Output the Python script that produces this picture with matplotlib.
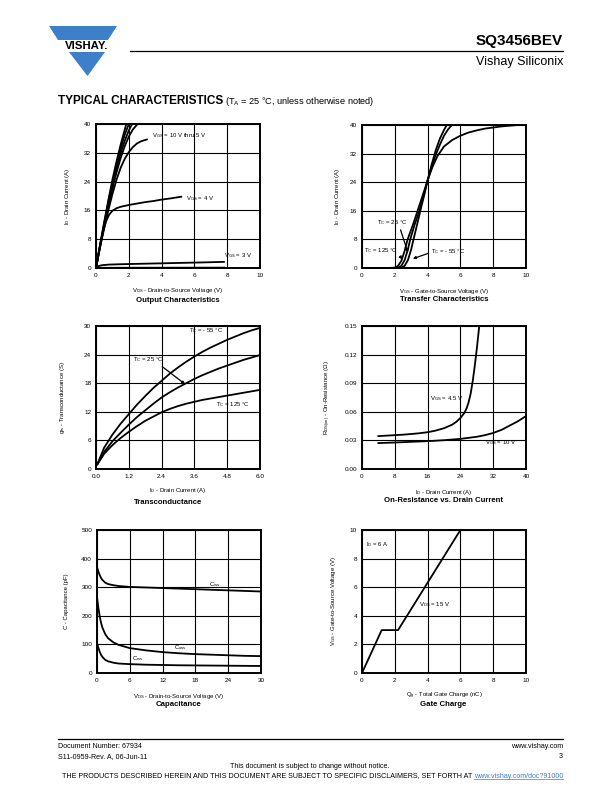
import matplotlib
matplotlib.use("Agg")
import matplotlib.pyplot as plt
from matplotlib.patches import Polygon
from matplotlib.lines import Line2D

# ---- Output characteristics (ID vs VDS) ----
out_vds_10 = [0, 0.25, 0.5, 0.75, 1.0, 1.25, 1.5, 1.75, 1.85]
out_id_10 = [0, 6.5, 12.8, 18.8, 24.5, 29.6, 34.2, 38.4, 40]
out_vds_8 = [0, 0.25, 0.5, 0.75, 1.0, 1.25, 1.5, 1.75, 2.0]
out_id_8 = [0, 6.3, 12.4, 18.2, 23.6, 28.6, 33.0, 37.0, 40]
out_vds_6 = [0, 0.25, 0.5, 0.75, 1.0, 1.25, 1.5, 1.75, 2.0, 2.2]
out_id_6 = [0, 6.1, 12.0, 17.6, 22.8, 27.6, 31.8, 35.3, 38.2, 40]
out_vds_55 = [0, 0.25, 0.5, 0.75, 1.0, 1.25, 1.5, 1.75, 2.0, 2.25, 2.5]
out_id_55 = [0, 6.0, 11.6, 17.0, 22.0, 26.5, 30.5, 33.8, 36.5, 38.5, 39.8]
out_vds_5 = [0, 0.25, 0.5, 0.75, 1.0, 1.25, 1.5, 1.75, 2.0, 2.25, 2.5, 2.75, 3.1]
out_id_5 = [0, 5.8, 11.0, 16.0, 20.5, 24.5, 27.8, 30.3, 32.2, 33.6, 34.6, 35.2, 35.7]
out_vds_4 = [0, 0.15, 0.3, 0.45, 0.6, 0.8, 1.0, 1.25, 1.5, 2.0, 2.5, 3.0, 3.5, 4.0, 4.5, 5.2]
out_id_4 = [0, 4.0, 7.5, 10.5, 12.8, 14.8, 15.9, 16.6, 17.0, 17.5, 17.9, 18.3, 18.6, 19.0, 19.3, 19.8]
out_vds_3 = [0, 0.1, 0.2, 0.4, 0.8, 1.5, 2.5, 3.5, 4.5, 5.5, 6.5, 7.8]
out_id_3 = [0, 0.4, 0.6, 0.8, 0.95, 1.05, 1.15, 1.25, 1.35, 1.45, 1.55, 1.7]
out_vds_2 = [0, 0.1, 2, 4, 6, 7.8]
out_id_2 = [0, 0.05, 0.07, 0.08, 0.09, 0.1]

# ---- Transfer characteristics (ID vs VGS) ----
tf_vgs_m55 = [0, 2.0, 2.4, 2.6, 2.8, 3.0, 3.14, 3.3, 3.59, 3.8, 4.0, 4.25, 4.5, 4.75, 5.0, 5.17]
tf_id_m55 = [0, 0, 0.1, 0.6, 2.2, 5.2, 8, 11, 16.6, 20.5, 24.5, 29, 33, 36.2, 38.6, 40]
tf_vgs_25 = [0, 1.8, 2.2, 2.4, 2.6, 2.8, 2.94, 3.2, 3.5, 3.75, 4.0, 4.25, 4.5, 4.75, 5.0, 5.25, 5.48]
tf_id_25 = [0, 0, 0.1, 0.6, 2.2, 5.2, 8, 12, 16, 20.2, 24.5, 28.3, 31.7, 34.5, 37, 38.8, 40]
tf_vgs_125 = [0, 1.6, 2.0, 2.2, 2.4, 2.6, 2.78, 3.1, 3.39, 3.7, 4.0, 4.3, 4.6, 5.0, 5.5, 6.0, 6.5,
              7.0, 7.5, 8.0, 8.5, 9.0, 9.5]
tf_id_125 = [0, 0, 0.1, 0.6, 2.0, 4.8, 8, 12, 16, 20.3, 24.5, 28.3, 31.3, 34, 35.8, 37, 37.9,
             38.5, 39, 39.3, 39.6, 39.8, 40]

# ---- Transconductance (gfs vs ID) ----
gfs_id = [0.05, 0.3, 0.6, 0.9, 1.2, 1.5, 1.8, 2.1, 2.4, 2.7, 3.0, 3.3, 3.6, 3.9, 4.2, 4.5, 4.8,
          5.1, 5.4, 5.7, 6.0]
gfs_m55 = [1, 4.5, 7.2, 9.5, 11.5, 13.5, 15.3, 17, 18.5, 20, 21.3, 22.5, 23.6, 24.6, 25.5, 26.3,
           27.1, 27.8, 28.5, 29.1, 29.6]
gfs_25 = [1, 3.6, 5.8, 7.6, 9.3, 10.9, 12.3, 13.7, 15, 16.1, 17.1, 18, 18.9, 19.7, 20.4, 21.1,
          21.7, 22.3, 22.9, 23.4, 23.9]
gfs_125 = [1, 3.2, 5.0, 6.5, 7.8, 9.0, 10.1, 11.0, 11.9, 12.6, 13.2, 13.7, 14.1, 14.5, 14.8, 15.1,
           15.4, 15.7, 16.0, 16.3, 16.6]

# ---- On-resistance vs drain current ----
rds_id_45 = [4, 6, 8, 10, 12, 14, 16, 18, 20, 22, 23, 24, 25, 25.5, 26, 26.5, 27, 27.5, 28, 28.6]
rds_45 = [0.0345, 0.035, 0.0355, 0.036, 0.0367, 0.0375, 0.0386, 0.0403, 0.0428, 0.0465, 0.0495,
          0.0535, 0.059, 0.0635, 0.07, 0.079, 0.092, 0.108, 0.126, 0.15]
rds_id_10 = [4, 8, 12, 16, 20, 24, 28, 30, 32, 34, 36, 38, 40]
rds_10 = [0.0272, 0.0278, 0.0285, 0.0292, 0.0302, 0.0316, 0.0338, 0.0355, 0.0378, 0.041, 0.0455,
          0.05, 0.0555]

# ---- Capacitance vs VDS ----
cap_vds = [0, 0.25, 0.5, 0.75, 1, 1.5, 2, 3, 4, 6, 9, 12, 15, 18, 21, 24, 27, 30]
cap_ciss = [370, 355, 342, 332, 325, 316, 311, 307, 304, 301, 299, 297, 295, 293, 291, 289, 287, 285]
cap_coss = [265, 228, 198, 175, 158, 136, 122, 107, 98, 87, 79, 73, 69, 66, 64, 62, 60, 59]
cap_crss = [105, 88, 74, 63, 56, 46, 41, 36, 33, 31, 29, 28, 27, 26.5, 26, 25.5, 25, 24.5]

# ---- Gate charge ----
qg_nc = [0, 1.2, 2.2, 6.0]
qg_vgs = [0, 3, 3, 10]

plt.rcParams['font.family'] = ['Liberation Sans', 'DejaVu Sans']
plt.rcParams['mathtext.fontset'] = 'custom'
plt.rcParams['mathtext.rm'] = 'Liberation Sans'
plt.rcParams['mathtext.it'] = 'Liberation Sans:italic'
plt.rcParams['mathtext.bf'] = 'Liberation Sans:bold'

W, H = 612, 792
fig = plt.figure(figsize=(W / 100, H / 100), dpi=100)
BLUE = '#3d7fc9'


def ftext(x, y, s, **kw):
    return fig.text(x / W, 1 - y / H, s, **kw)


def make_axes(x0, y0, x1, y1, xticks, yticks, xlabels, ylabels, xlabel, ylabel, ylx, xly):
    ax = fig.add_axes([x0 / W, 1 - y1 / H, (x1 - x0) / W, (y1 - y0) / H])
    ax.set_xlim(xticks[0], xticks[-1])
    ax.set_ylim(yticks[0], yticks[-1])
    ax.set_xticks(xticks)
    ax.set_yticks(yticks)
    ax.set_xticklabels(xlabels)
    ax.set_yticklabels(ylabels)
    ax.tick_params(length=0, labelsize=4.6, pad=3.5)
    ax.grid(True, color='black', linewidth=0.8)
    ax.set_axisbelow(True)
    for sp in ax.spines.values():
        sp.set_linewidth(1.4)
    ax.set_xlabel(xlabel, fontsize=4.3)
    ax.set_ylabel(ylabel, fontsize=4.3)
    ax.xaxis.set_label_coords(0.5, xly)
    ax.yaxis.set_label_coords(ylx, 0.5)
    return ax


lw = 1.3
small = 4.3

# Output characteristics
ax1 = make_axes(96, 124, 260, 268, [0, 2, 4, 6, 8, 10], [0, 8, 16, 24, 32, 40],
                ['0', '2', '4', '6', '8', '10'], ['0', '8', '16', '24', '32', '40'],
                r'V$_{\mathrm{DS}}$ - Drain-to-Source Voltage (V)',
                r'I$_{\mathrm{D}}$ - Drain Current (A)', -0.146, -0.125)
for xs, ys in [(out_vds_10, out_id_10), (out_vds_8, out_id_8), (out_vds_6, out_id_6),
               (out_vds_55, out_id_55), (out_vds_5, out_id_5), (out_vds_4, out_id_4),
               (out_vds_3, out_id_3), (out_vds_2, out_id_2)]:
    ax1.plot(xs, ys, color='black', lw=lw, clip_on=False)
ax1.text(3.4, 36.8, r'V$_{\mathrm{GS}}$ = 10 V thru 5 V', fontsize=small, va='center')
ax1.text(5.5, 19.3, r'V$_{\mathrm{GS}}$ = 4 V', fontsize=small, va='center')
ax1.text(7.8, 3.5, r'V$_{\mathrm{GS}}$ = 3 V', fontsize=small, va='center')
ftext(178, 300, 'Output Characteristics', fontsize=5.6, fontweight='bold', ha='center', va='center')

# Transfer characteristics
ax2 = make_axes(362, 125, 526, 268, [0, 2, 4, 6, 8, 10], [0, 8, 16, 24, 32, 40],
                ['0', '2', '4', '6', '8', '10'], ['0', '8', '16', '24', '32', '40'],
                r'V$_{\mathrm{GS}}$ - Gate-to-Source Voltage (V)',
                r'I$_{\mathrm{D}}$ - Drain Current (A)', -0.122, -0.13)
for xs, ys in [(tf_vgs_m55, tf_id_m55), (tf_vgs_25, tf_id_25), (tf_vgs_125, tf_id_125)]:
    ax2.plot(xs, ys, color='black', lw=lw, clip_on=False)
arr = dict(arrowstyle='-|>', color='black', lw=0.9, mutation_scale=4, shrinkA=0, shrinkB=0)
ax2.annotate(r'T$_{\mathrm{C}}$ = 25 °C', xy=(2.8, 4.3), xytext=(0.9, 12.7), fontsize=small,
             va='center', arrowprops=dict(arr, relpos=(0.75, 0.0)))
ax2.annotate(r'T$_{\mathrm{C}}$ = 125 °C', xy=(2.45, 2.4), xytext=(0.1, 4.8), fontsize=small,
             va='center', arrowprops=dict(arr, relpos=(1.0, 0.3)))
ax2.annotate(r'T$_{\mathrm{C}}$ = - 55 °C', xy=(3.1, 2.6), xytext=(4.2, 4.6), fontsize=small,
             va='center', arrowprops=dict(arr, relpos=(0.0, 0.4)))
ftext(444, 299, 'Transfer Characteristics', fontsize=5.6, fontweight='bold', ha='center', va='center')

# Transconductance
ax3 = make_axes(96, 326, 260, 469, [0, 1.2, 2.4, 3.6, 4.8, 6.0], [0, 6, 12, 18, 24, 30],
                ['0.0', '1.2', '2.4', '3.6', '4.8', '6.0'], ['0', '6', '12', '18', '24', '30'],
                r'I$_{\mathrm{D}}$ - Drain Current (A)',
                r'g$_{\mathrm{fs}}$ - Transconductance (S)', -0.177, -0.119)
for ys in [gfs_m55, gfs_25, gfs_125]:
    ax3.plot(gfs_id, ys, color='black', lw=lw)
ax3.text(3.4, 29.0, r'T$_{\mathrm{C}}$ = - 55 °C', fontsize=small, va='center')
ax3.text(4.4, 13.6, r'T$_{\mathrm{C}}$ = 125 °C', fontsize=small, va='center')
ax3.annotate(r'T$_{\mathrm{C}}$ = 25 °C', xy=(3.26, 17.8), xytext=(1.34, 23.0), fontsize=small,
             va='center', arrowprops=dict(arr, relpos=(0.85, 0.0)))
ftext(168, 502, 'Transconductance', fontsize=5.6, fontweight='bold', ha='center', va='center')

# On-resistance
ax4 = make_axes(362, 326, 526, 469, [0, 8, 16, 24, 32, 40], [0, 0.03, 0.06, 0.09, 0.12, 0.15],
                ['0', '8', '16', '24', '32', '40'],
                ['0.00', '0.03', '0.06', '0.09', '0.12', '0.15'],
                r'I$_{\mathrm{D}}$ - Drain Current (A)',
                r'R$_{\mathrm{DS(on)}}$ - On-Resistance ($\Omega$)', -0.177, -0.133)
ax4.plot(rds_id_45, rds_45, color='black', lw=lw)
ax4.plot(rds_id_10, rds_10, color='black', lw=lw)
ax4.text(16.5, 0.074, r'V$_{\mathrm{GS}}$ = 4.5 V', fontsize=small, va='center')
ax4.text(30.1, 0.028, r'V$_{\mathrm{GS}}$ = 10 V', fontsize=small, va='center')
ftext(444, 501, 'On-Resistance vs. Drain Current', fontsize=5.6, fontweight='bold', ha='center',
      va='center')

# Capacitance
ax5 = make_axes(97, 530, 261, 673, [0, 6, 12, 18, 24, 30], [0, 100, 200, 300, 400, 500],
                ['0', '6', '12', '18', '24', '30'], ['0', '100', '200', '300', '400', '500'],
                r'V$_{\mathrm{DS}}$ - Drain-to-Source Voltage (V)',
                'C - Capacitance (pF)', -0.17, -0.13)
for ys in [cap_ciss, cap_coss, cap_crss]:
    ax5.plot(cap_vds, ys, color='black', lw=lw)
ax5.text(20.4, 310, r'C$_{\mathrm{iss}}$', fontsize=small, va='center')
ax5.text(14.0, 90, r'C$_{\mathrm{oss}}$', fontsize=small, va='center')
ax5.text(6.4, 49, r'C$_{\mathrm{rss}}$', fontsize=small, va='center')
ftext(178, 705, 'Capacitance', fontsize=5.6, fontweight='bold', ha='center', va='center')

# Gate charge
ax6 = make_axes(362, 530, 526, 673, [0, 2, 4, 6, 8, 10], [0, 2, 4, 6, 8, 10],
                ['0', '2', '4', '6', '8', '10'], ['0', '2', '4', '6', '8', '10'],
                r'Q$_{\mathrm{g}}$ - Total Gate Charge (nC)',
                r'V$_{\mathrm{GS}}$ - Gate-to-Source Voltage (V)', -0.146, -0.125)
ax6.plot(qg_nc, qg_vgs, color='black', lw=lw, clip_on=False)
ax6.text(0.26, 8.95, r'I$_{\mathrm{D}}$ = 6 A', fontsize=small, va='center')
ax6.text(3.45, 4.8, r'V$_{\mathrm{DS}}$ = 15 V', fontsize=small, va='center')
ftext(443, 704, 'Gate Charge', fontsize=5.6, fontweight='bold', ha='center', va='center')

# ---- header ----
def px(x, y):
    return (x / W, 1 - y / H)

fig.add_artist(Polygon([px(49, 26), px(117, 26), px(108, 40), px(58, 40)], closed=True,
                       transform=fig.transFigure, color=BLUE, lw=0))
fig.add_artist(Polygon([px(69, 52), px(105, 52), px(87.5, 76)], closed=True,
                       transform=fig.transFigure, color=BLUE, lw=0))
ftext(87, 46, 'VISHAY.', fontsize=8.2, fontweight='bold', ha='center', va='center')
fig.add_artist(Line2D([130 / W, 563 / W], [1 - 51 / H, 1 - 51 / H], color='black', lw=0.9,
                      transform=fig.transFigure))
ftext(563, 41, 'SQ3456BEV', fontsize=11, fontweight='bold', ha='right', va='center')
ftext(563, 62, 'Vishay Siliconix', fontsize=9, ha='right', va='center')
ftext(58, 101, 'TYPICAL CHARACTERISTICS', fontsize=8.5, fontweight='heavy', ha='left', va='center')
ftext(225, 101, r'(T$_{\mathrm{A}}$ = 25 °C, unless otherwise noted)', fontsize=6.6, ha='left',
      va='center')

# ---- footer ----
fig.add_artist(Line2D([58 / W, 563 / W], [1 - 739 / H, 1 - 739 / H], color='black', lw=0.9,
                      transform=fig.transFigure))
foot = 5.1
ftext(58, 746, 'Document Number: 67934', fontsize=foot, ha='left', va='center')
ftext(58, 757, 'S11-0959-Rev. A, 06-Jun-11', fontsize=foot, ha='left', va='center')
ftext(563, 746, 'www.vishay.com', fontsize=foot, ha='right', va='center')
ftext(563, 757, '3', fontsize=foot, ha='right', va='center')
ftext(310, 767, 'This document is subject to change without notice.', fontsize=foot, ha='center',
      va='center')
link = ftext(563, 776, 'www.vishay.com/doc?91000', fontsize=foot, ha='right', va='center',
             color=BLUE)
fig.canvas.draw()
bb = link.get_window_extent()
x_link = bb.x0
ftext(x_link, 776, 'THE PRODUCTS DESCRIBED HEREIN AND THIS DOCUMENT ARE SUBJECT TO SPECIFIC '
      'DISCLAIMERS, SET FORTH AT ', fontsize=foot, ha='right', va='center')
fig.add_artist(Line2D([x_link / W, 563 / W], [1 - 779.3 / H, 1 - 779.3 / H], color=BLUE, lw=0.5,
                      transform=fig.transFigure))

fig.savefig('out.png', dpi=100)
